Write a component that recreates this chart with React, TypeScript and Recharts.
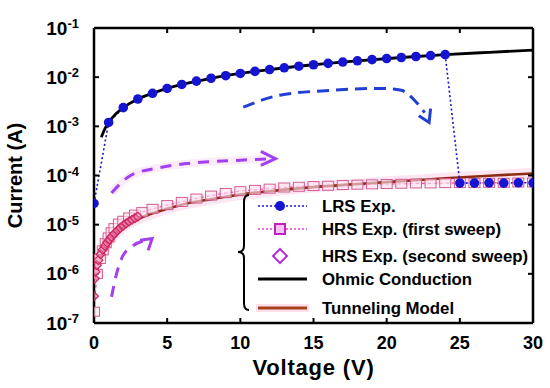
import React from "react";
import { LineChart, Line, XAxis, YAxis, Legend } from "recharts";

// ---------- data ----------
const LRS_V = [0, 1, 2, 3, 4, 5, 6, 7, 8, 9, 10, 11, 12, 13, 14, 15, 16, 17, 18, 19, 20, 21, 22, 23, 24, 25, 26, 27, 28, 29, 30];
const LRS_I = [2.7e-5, 1.2e-3, 2.4e-3, 3.6e-3, 4.7e-3, 5.9e-3, 7.1e-3, 8.3e-3, 9.5e-3, 1.07e-2, 1.19e-2, 1.31e-2, 1.43e-2, 1.55e-2, 1.67e-2, 1.79e-2, 1.91e-2, 2.03e-2, 2.15e-2, 2.27e-2, 2.39e-2, 2.51e-2, 2.63e-2, 2.75e-2, 2.87e-2, 7.0e-5, 7.0e-5, 7.1e-5, 7.0e-5, 7.1e-5, 7.1e-5];

const HRS1_V = [0, 0.2, 0.4, 0.6, 0.8, 1.0, 1.2, 1.4, 1.7, 2.0, 2.4, 2.8, 3.3, 4, 5, 6, 7, 8, 9, 10, 11, 12, 13, 14, 15, 16, 17, 18, 19, 20, 21, 22, 23, 24, 25, 26, 27, 28, 29, 30];
const HRS1_I = [1.7e-7, 1.0e-6, 2.0e-6, 3.0e-6, 4.2e-6, 5.5e-6, 7.0e-6, 8.5e-6, 1.05e-5, 1.2e-5, 1.4e-5, 1.6e-5, 1.8e-5, 2.1e-5, 2.5e-5, 2.9e-5, 3.4e-5, 3.9e-5, 4.4e-5, 4.8e-5, 5.1e-5, 5.4e-5, 5.7e-5, 5.9e-5, 6.1e-5, 6.2e-5, 6.4e-5, 6.5e-5, 6.6e-5, 6.7e-5, 6.8e-5, 6.9e-5, 6.9e-5, 7.0e-5, 7.0e-5, 7.0e-5, 7.1e-5, 7.1e-5, 7.2e-5, 7.2e-5];

const HRS2_V = [0, 0.05, 0.1, 0.2, 0.3, 0.45, 0.6, 0.75, 0.9, 1.05, 1.2, 1.4, 1.6, 1.8, 2.0, 2.2, 2.4, 2.6, 2.8, 3.0];
const HRS2_I = [3.5e-7, 8e-7, 1.1e-6, 1.5e-6, 1.9e-6, 2.5e-6, 3.1e-6, 3.7e-6, 4.3e-6, 5.0e-6, 5.7e-6, 6.6e-6, 7.6e-6, 8.6e-6, 9.6e-6, 1.06e-5, 1.16e-5, 1.26e-5, 1.36e-5, 1.46e-5];

const OHM_V = [0.5, 0.75, 1, 1.5, 2, 3, 4, 5, 6, 8, 10, 12, 15, 18, 21, 24, 27, 30];
const OHM_I = [6e-4, 9e-4, 1.2e-3, 1.8e-3, 2.4e-3, 3.6e-3, 4.7e-3, 5.9e-3, 7.1e-3, 9.5e-3, 1.19e-2, 1.43e-2, 1.79e-2, 2.15e-2, 2.51e-2, 2.87e-2, 3.2e-2, 3.55e-2];

const TUN_V = [0.5, 0.75, 1, 1.5, 2, 2.5, 3, 4, 5, 6, 8, 10, 12, 15, 18, 21, 24, 27, 30];
const TUN_I = [2.1e-6, 3.3e-6, 4.5e-6, 6.8e-6, 9.0e-6, 1.1e-5, 1.3e-5, 1.7e-5, 2.1e-5, 2.55e-5, 3.3e-5, 4.1e-5, 4.8e-5, 5.8e-5, 6.7e-5, 7.7e-5, 8.8e-5, 9.9e-5, 1.1e-4];

// dashed annotation arrows (shaft + head)
const BLUE_ARROW_V = [10.2, 12.7, 16.2, 19.6, 21.0, 21.9, 22.6];
const BLUE_ARROW_I = [2.45e-3, 4.3e-3, 5.4e-3, 5.9e-3, 5.4e-3, 3.4e-3, 1.9e-3];
const BLUE_HEAD_V = [22.2, 22.9, 23.0];
const BLUE_HEAD_I = [1.65e-3, 1.2e-3, 2.3e-3];

const MAG_UP_V = [1.2, 2.5, 4.5, 7.3, 10, 12.1];
const MAG_UP_I = [4.4e-5, 1.0e-4, 1.45e-4, 1.85e-4, 2.05e-4, 2.2e-4];
const MAG_UP_HEAD_V = [11.4, 12.4, 11.4];
const MAG_UP_HEAD_I = [3.1e-4, 2.2e-4, 1.6e-4];

const MAG_LOW_V = [1.2, 1.5, 1.9, 2.6, 3.8];
const MAG_LOW_I = [3.4e-7, 9e-7, 2.1e-6, 3.6e-6, 5.0e-6];
const MAG_LOW_HEAD_V = [3.15, 3.97, 3.7];
const MAG_LOW_HEAD_I = [4.8e-6, 5.2e-6, 3.0e-6];

const X_TICKS = [0, 5, 10, 15, 20, 25, 30];
const Y_TICKS = [1e-7, 1e-6, 1e-5, 1e-4, 1e-3, 1e-2, 1e-1];

const LEGEND_LABELS = ["LRS Exp.", "HRS Exp. (first sweep)", "HRS Exp. (second sweep)", "Ohmic Conduction", "Tunneling Model"];

const pts = (vs: number[], is: number[]) => vs.map((v, k) => ({ v, i: is[k] }));

const lrs = pts(LRS_V, LRS_I);
const hrs1 = pts(HRS1_V, HRS1_I);
const hrs2 = pts(HRS2_V, HRS2_I);
const ohm = pts(OHM_V, OHM_I);
const tun = pts(TUN_V, TUN_I);
const blueArrow = pts(BLUE_ARROW_V, BLUE_ARROW_I);
const blueHead = pts(BLUE_HEAD_V, BLUE_HEAD_I);
const magUp = pts(MAG_UP_V, MAG_UP_I);
const magUpHead = pts(MAG_UP_HEAD_V, MAG_UP_HEAD_I);
const magLow = pts(MAG_LOW_V, MAG_LOW_I);
const magLowHead = pts(MAG_LOW_HEAD_V, MAG_LOW_HEAD_I);

const FONT = "'Liberation Sans', Arial, Helvetica, sans-serif";
const BLUE = "#1414d2";
const BLUE_ARROW = "#1f3fd6";
const MAGENTA_ARROW = "#a23ff0";
const BROWN = "#8c2c12";

const YTick = (props: any) => {
  const { x, y, payload } = props;
  const exp = Math.round(Math.log10(payload.value));
  return (
    <text x={x} y={y} textAnchor="end" fontFamily={FONT} fontWeight="bold" fill="#000">
      <tspan fontSize={19} dy={6.5}>10</tspan>
      <tspan fontSize={13} dy={-6.5}>{String(exp)}</tspan>
    </text>
  );
};

const XTick = (props: any) => {
  const { x, y, payload } = props;
  return (
    <text x={x} y={y} dy={6.5} textAnchor="middle" fontFamily={FONT} fontWeight="bold" fontSize={18} fill="#000">
      {payload.value}
    </text>
  );
};

const YLabel = (props: any) => {
  const vb = props.viewBox || {};
  const cy = (vb.y ?? 28) + (vb.height ?? 295) / 2;
  const cx = 15;
  return (
    <text x={cx} y={cy} transform={`rotate(-90, ${cx}, ${cy})`} textAnchor="middle" dominantBaseline="central"
      fontFamily={FONT} fontWeight="bold" fontSize={20} fill="#000">
      Current (A)
    </text>
  );
};

const NoTick = () => <g />;

const SquareDot = (p: any) => {
  if (p.cx == null || p.cy == null) return <g key={`s-${p.index}`} />;
  return (
    <rect key={`s-${p.index}`} x={p.cx - 5.5} y={p.cy - 4.5} width={11} height={9}
      fill="#fde4f0" fillOpacity={0.6} stroke="#d45a92" strokeWidth={1} />
  );
};

const DiamondDot = (p: any) => {
  if (p.cx == null || p.cy == null) return <g key={`d-${p.index}`} />;
  const r = 4.5;
  return (
    <polygon key={`d-${p.index}`}
      points={`${p.cx},${p.cy - r} ${p.cx + r},${p.cy} ${p.cx},${p.cy + r} ${p.cx - r},${p.cy}`}
      fill="#f47aa8" fillOpacity={0.55} stroke="#c8285f" strokeWidth={1.2} />
  );
};

const BlueDot = (p: any) => {
  if (p.cx == null || p.cy == null) return <g key={`b-${p.index}`} />;
  return <circle key={`b-${p.index}`} cx={p.cx} cy={p.cy} r={4.8} fill={BLUE} stroke="none" />;
};

const LegendBox = () => {
  const rows = [16, 39, 66, 89, 118];
  const lx1 = 22, lx2 = 71, mx = 44, tx = 86;
  return (
    <svg width={300} height={130} style={{ display: "block", overflow: "visible" }}>
      <path d="M 13 5 Q 8 5 8 12 L 8 56 Q 8 62 2 62 Q 8 62 8 68 L 8 113 Q 8 120 13 120"
        fill="none" stroke="#000" strokeWidth={2} />
      {/* LRS */}
      <line x1={lx1} y1={rows[0]} x2={lx2} y2={rows[0]} stroke={BLUE} strokeWidth={1.5} strokeDasharray="2 2" />
      <circle cx={mx} cy={rows[0]} r={5} fill={BLUE} />
      {/* HRS first */}
      <line x1={lx1} y1={rows[1]} x2={lx2} y2={rows[1]} stroke="#e040e0" strokeWidth={1.5} strokeDasharray="2 2" />
      <rect x={mx - 5} y={rows[1] - 5} width={10} height={10} fill="#f6c2ee" stroke="#c020c0" strokeWidth={2} />
      {/* HRS second */}
      <polygon points={`${mx},${rows[2] - 7} ${mx + 7},${rows[2]} ${mx},${rows[2] + 7} ${mx - 7},${rows[2]}`}
        fill="none" stroke="#b030e0" strokeWidth={2} />
      {/* Ohmic */}
      <line x1={lx1} y1={rows[3]} x2={lx2} y2={rows[3]} stroke="#000" strokeWidth={3} />
      {/* Tunneling */}
      <rect x={lx1 - 2} y={rows[4] - 4} width={lx2 - lx1 + 4} height={8} fill="#fce0ec" />
      <line x1={lx1} y1={rows[4]} x2={lx2} y2={rows[4]} stroke="#a8421c" strokeWidth={3} />
      {LEGEND_LABELS.map((t, k) => (
        <text key={t} x={tx} y={rows[k]} dy={6} fontFamily={FONT} fontWeight="bold" fontSize={16.8} fill="#000">{t}</text>
      ))}
    </svg>
  );
};

export default function App() {
  return (
    <div style={{ position: "absolute", left: 0, top: 0, width: 550, height: 388, background: "#fff" }}>
      <LineChart width={550} height={388} margin={{ top: 27, right: 16, bottom: 0, left: 0 }}>
        <XAxis dataKey="v" type="number" domain={[0, 30]} ticks={X_TICKS} allowDataOverflow
          axisLine={{ stroke: "#000", strokeWidth: 2.5 }} tickLine={{ stroke: "#000", strokeWidth: 2 }}
          tickSize={-5} tickMargin={24} tick={<XTick />} height={65}
          label={{ value: "Voltage (V)", position: "insideBottom", offset: 13, fontFamily: FONT, fontWeight: "bold", fontSize: 22, fill: "#000", letterSpacing: 0.8 } as any} />
        <XAxis xAxisId="top" orientation="top" dataKey="v" type="number" domain={[0, 30]} ticks={X_TICKS} allowDataOverflow
          axisLine={{ stroke: "#000", strokeWidth: 2.5 }} tickLine={{ stroke: "#000", strokeWidth: 2 }}
          tickSize={-5} tick={<NoTick />} height={1} />
        <YAxis dataKey="i" type="number" scale="log" domain={[1e-7, 1e-1]} ticks={Y_TICKS} allowDataOverflow
          axisLine={{ stroke: "#000", strokeWidth: 2.5 }} tickLine={{ stroke: "#000", strokeWidth: 2 }}
          tickSize={-5} tickMargin={20} tick={<YTick />} width={94} interval={0}
          label={<YLabel />} />
        <YAxis yAxisId="right" orientation="right" type="number" scale="log" domain={[1e-7, 1e-1]} ticks={Y_TICKS} allowDataOverflow
          axisLine={{ stroke: "#000", strokeWidth: 2.5 }} tickLine={{ stroke: "#000", strokeWidth: 2 }}
          tickSize={-5} tick={<NoTick />} width={1} interval={0} />

        {/* pink glow behind HRS data */}
        <Line data={tun} dataKey="i" type="monotone" stroke="#f9bfdf" strokeOpacity={0.4} strokeWidth={11} dot={false} isAnimationActive={false} legendType="none" />
        <Line data={magUp} dataKey="i" type="monotone" stroke="#f6c6ee" strokeOpacity={0.35} strokeWidth={8} dot={false} isAnimationActive={false} legendType="none" />

        {/* HRS first sweep */}
        <Line data={hrs1} dataKey="i" type="linear" stroke="#e05aa0" strokeWidth={1.2} strokeDasharray="3 3" dot={<SquareDot />} isAnimationActive={false} />
        {/* Tunneling */}
        <Line data={tun} dataKey="i" type="monotone" stroke={BROWN} strokeWidth={2.6} dot={false} isAnimationActive={false} />
        {/* HRS second sweep */}
        <Line data={hrs2} dataKey="i" type="linear" stroke="none" dot={<DiamondDot />} isAnimationActive={false} />

        {/* arrows */}
        <Line data={blueArrow} dataKey="i" type="monotone" stroke={BLUE_ARROW} strokeWidth={3} strokeDasharray="12 7" dot={false} isAnimationActive={false} />
        <Line data={blueHead} dataKey="i" type="linear" stroke={BLUE_ARROW} strokeWidth={3} dot={false} isAnimationActive={false} />
        <Line data={magUp} dataKey="i" type="monotone" stroke={MAGENTA_ARROW} strokeWidth={3} strokeDasharray="11 8" dot={false} isAnimationActive={false} />
        <Line data={magUpHead} dataKey="i" type="linear" stroke={MAGENTA_ARROW} strokeWidth={3} dot={false} isAnimationActive={false} />
        <Line data={magLow} dataKey="i" type="monotone" stroke={MAGENTA_ARROW} strokeWidth={3} strokeDasharray="11 8" dot={false} isAnimationActive={false} />
        <Line data={magLowHead} dataKey="i" type="linear" stroke={MAGENTA_ARROW} strokeWidth={3} dot={false} isAnimationActive={false} />

        {/* LRS dotted connecting line */}
        <Line data={lrs} dataKey="i" type="linear" stroke={BLUE} strokeWidth={1.6} strokeDasharray="2 2.5" dot={false} isAnimationActive={false} />
        {/* Ohmic */}
        <Line data={ohm} dataKey="i" type="monotone" stroke="#000" strokeWidth={2.8} dot={false} isAnimationActive={false} />
        {/* LRS markers */}
        <Line data={lrs} dataKey="i" type="linear" stroke="none" dot={<BlueDot />} isAnimationActive={false} />

        <Legend layout="horizontal" verticalAlign="middle" align="center" content={<LegendBox />}
          wrapperStyle={{ position: "absolute", left: 236, top: 190, width: 300, height: 130 }} />
      </LineChart>
    </div>
  );
}
